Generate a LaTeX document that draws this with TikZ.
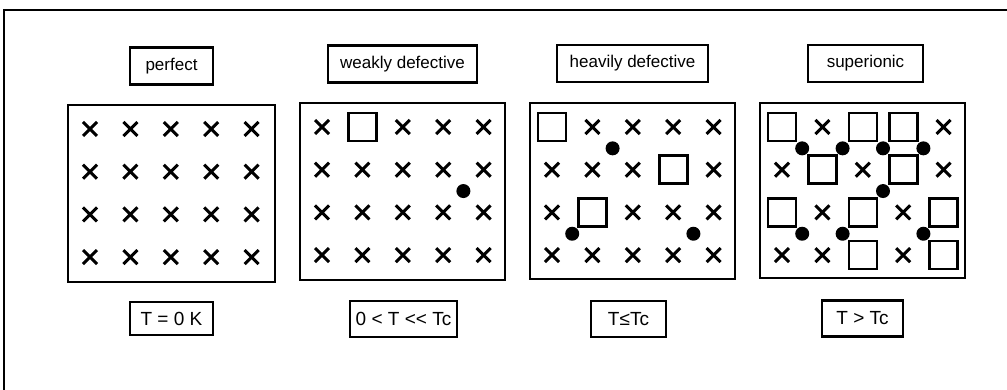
\documentclass[tikz,border=0pt]{standalone}
\usepackage{fontspec}
\setmainfont{Liberation Sans}
\begin{document}
\begin{tikzpicture}[x=1pt,y=-1pt,
  frame/.style={line width=2.2pt},
  cellbox/.style={line width=2.6pt},
  title/.style={draw,line width=2.3pt,inner sep=0pt,minimum height=37pt,
    font=\fontsize{17}{20}\selectfont},
  cond/.style={draw,line width=2.3pt,inner sep=0pt,minimum height=36pt,
    font=\fontsize{19}{22}\selectfont},
  ion/.style={line width=3pt},
  vac/.style={line width=2.6pt},
  xion/.pic={\draw[ion] (-7,-7)--(7,7) (-7,7)--(7,-7);},
  vacancy/.pic={\draw[vac] (-14,-14) rectangle (14,14);},
  inter/.pic={\fill (0,0) circle (7);}
]
\useasboundingbox (0,0) rectangle (1007,390);

% outer frame (top and left edges)
\draw[frame] (4,390) -- (4,10) -- (1007,10);

% ---------- titles ----------
\node[title,minimum width=83pt]  (t1) at (171.5,66) {perfect};
\node[title,minimum width=149pt] (t2) at (402.5,64) {weakly defective};
\node[title,minimum width=151pt] (t3) at (632.5,63.5) {heavily defective};
\node[title,minimum width=115pt] (t4) at (865.5,63.5) {superionic};

% ---------- conditions ----------
\node[cond,minimum width=83pt,minimum height=33pt] (c1) at (171.5,318.5) {T = 0 K};
\node[cond,minimum width=107pt] (c2) at (403.5,319) {0 < T <{}< Tc};
\node[cond,minimum width=75pt]  (c3) at (628.5,319) {T≤Tc};
\node[cond,minimum width=81pt]  (c4) at (862.5,318.5) {T > Tc};

% ---------- perfect lattice ----------
\begin{scope}[shift={(68,105)}]
  \draw[cellbox] (0,0) rectangle (207,177);
  \foreach \c in {1,...,5}
    \foreach \r in {1,...,4}
      \pic at ({22+40.4*(\c-1)},{24+42.7*(\r-1)}) {xion};
\end{scope}

% ---------- weakly defective ----------
\begin{scope}[shift={(300,103)}]
  \draw[cellbox] (0,0) rectangle (205,177);
  \foreach \c/\r in {1/1,3/1,4/1,5/1,
                     1/2,2/2,3/2,4/2,5/2,
                     1/3,2/3,3/3,4/3,5/3,
                     1/4,2/4,3/4,4/4,5/4}
    \pic at ({22+40.4*(\c-1)},{24+42.7*(\r-1)}) {xion};
  \foreach \c/\r in {2/1}
    \pic at ({22+40.4*(\c-1)},{24+42.7*(\r-1)}) {vacancy};
  \foreach \c/\r in {4.5/2.5}
    \pic at ({22+40.4*(\c-1)},{24+42.7*(\r-1)}) {inter};
\end{scope}

% ---------- heavily defective ----------
\begin{scope}[shift={(530,103)}]
  \draw[cellbox] (0,0) rectangle (205,176);
  \foreach \c/\r in {2/1,3/1,4/1,5/1,
                     1/2,2/2,3/2,5/2,
                     1/3,3/3,4/3,5/3,
                     1/4,2/4,3/4,4/4,5/4}
    \pic at ({22+40.4*(\c-1)},{24+42.7*(\r-1)}) {xion};
  \foreach \c/\r in {1/1,4/2,2/3}
    \pic at ({22+40.4*(\c-1)},{24+42.7*(\r-1)}) {vacancy};
  \foreach \c/\r in {2.5/1.5,1.5/3.5,4.5/3.5}
    \pic at ({22+40.4*(\c-1)},{24+42.7*(\r-1)}) {inter};
\end{scope}

% ---------- superionic ----------
\begin{scope}[shift={(760,103)}]
  \draw[cellbox] (0,0) rectangle (205,175);
  \foreach \c/\r in {2/1,5/1,1/2,3/2,5/2,2/3,4/3,1/4,2/4,4/4}
    \pic at ({22+40.4*(\c-1)},{24+42.7*(\r-1)}) {xion};
  \foreach \c/\r in {1/1,3/1,4/1,2/2,4/2,1/3,3/3,5/3,3/4,5/4}
    \pic at ({22+40.4*(\c-1)},{24+42.7*(\r-1)}) {vacancy};
  \foreach \c/\r in {1.5/1.5,2.5/1.5,3.5/1.5,4.5/1.5,3.5/2.5,1.5/3.5,2.5/3.5,4.5/3.5}
    \pic at ({22+40.4*(\c-1)},{24+42.7*(\r-1)}) {inter};
\end{scope}
\end{tikzpicture}
\end{document}
